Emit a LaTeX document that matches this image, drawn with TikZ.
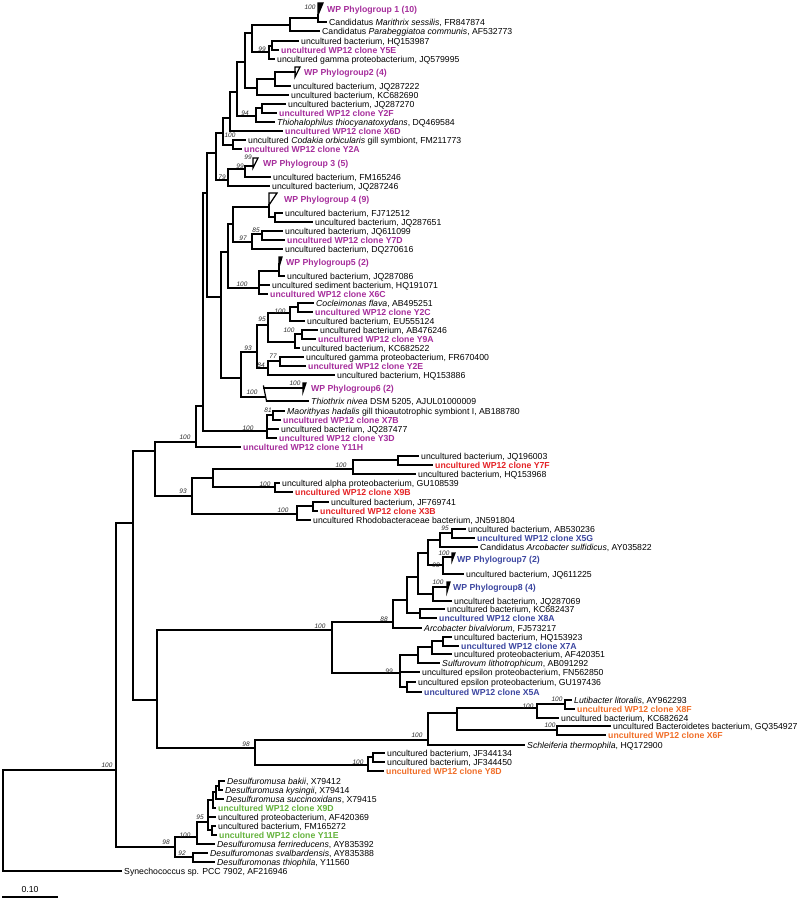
\documentclass[tikz,border=0pt]{standalone}
\usepackage{fontspec}
\setmainfont{Liberation Sans}
\definecolor{cpur}{RGB}{165,45,155}
\definecolor{cred}{RGB}{228,35,38}
\definecolor{cblu}{RGB}{60,70,160}
\definecolor{cora}{RGB}{240,110,40}
\definecolor{cgre}{RGB}{100,178,60}
\definecolor{cbs}{RGB}{40,40,40}
\newcommand\mkleaf[4][]{\coordinate (#2) at (#3); \node[lab,#1] (t#2) at ([shift={(3pt,-3.1pt)}]#2) {#4};}
\begin{document}
\begin{tikzpicture}[x=1pt,y=-1pt,
  br/.style={line width=1.25pt,line cap=rect,line join=miter},
  lab/.style={font=\fontsize{8.7}{10}\selectfont, inner sep=0pt, anchor=base west},
  clone/.style={font=\fontsize{8.7}{10}\selectfont\bfseries, text=#1},
  bsl/.style={font=\fontsize{6.5}{7}\selectfont\itshape, inner sep=0pt, text=cbs}]
\useasboundingbox (0,0) rectangle (800,901);
% ---------------- leaves: purple clade
\mkleaf{Lmar}{326,22}{Candidatus \textit{Marithrix sessilis}, FR847874}
\mkleaf{Lpar}{319,31}{Candidatus \textit{Parabeggiatoa communis}, AF532773}
\mkleaf{Lhq987}{298,41}{uncultured bacterium, HQ153987}
\mkleaf[clone=cpur]{Ly5e}{278,50}{uncultured WP12 clone Y5E}
\mkleaf{Ljq995}{274,59}{uncultured gamma proteobacterium, JQ579995}
\mkleaf{Ljq222}{290,86}{uncultured bacterium, JQ287222}
\mkleaf{Lkc690}{288,95}{uncultured bacterium, KC682690}
\mkleaf{Ljq270}{285,104}{uncultured bacterium, JQ287270}
\mkleaf[clone=cpur]{Ly2f}{276,113}{uncultured WP12 clone Y2F}
\mkleaf{Lthio}{274,122}{\textit{Thiohalophilus thiocyanatoxydans}, DQ469584}
\mkleaf[clone=cpur]{Lx6d}{282,131}{uncultured WP12 clone X6D}
\mkleaf{Lcod}{245,140}{uncultured \textit{Codakia orbicularis} gill symbiont, FM211773}
\mkleaf[clone=cpur]{Ly2a}{241,149}{uncultured WP12 clone Y2A}
\mkleaf{Lfm246}{270,177}{uncultured bacterium, FM165246}
\mkleaf{Ljq246}{269,186}{uncultured bacterium, JQ287246}
\mkleaf{Lfj512}{282,213}{uncultured bacterium, FJ712512}
\mkleaf{Ljq651}{312,222}{uncultured bacterium, JQ287651}
\mkleaf{Ljq099}{282,231}{uncultured bacterium, JQ611099}
\mkleaf[clone=cpur]{Ly7d}{284,240}{uncultured WP12 clone Y7D}
\mkleaf{Ldq616}{282,249}{uncultured bacterium, DQ270616}
\mkleaf{Ljq086}{284,276}{uncultured bacterium, JQ287086}
\mkleaf{Lhq071}{269,285}{uncultured sediment bacterium, HQ191071}
\mkleaf[clone=cpur]{Lx6c}{267,294}{uncultured WP12 clone X6C}
\mkleaf{Lcoc}{313,303}{\textit{Cocleimonas flava}, AB495251}
\mkleaf[clone=cpur]{Ly2c}{312,312}{uncultured WP12 clone Y2C}
\mkleaf{Leu124}{304,321}{uncultured bacterium, EU555124}
\mkleaf{Lab246}{317,330}{uncultured bacterium, AB476246}
\mkleaf[clone=cpur]{Ly9a}{315,339}{uncultured WP12 clone Y9A}
\mkleaf{Lkc522}{299,348}{uncultured bacterium, KC682522}
\mkleaf{Lfr400}{303,357}{uncultured gamma proteobacterium, FR670400}
\mkleaf[clone=cpur]{Ly2e}{305,366}{uncultured WP12 clone Y2E}
\mkleaf{Lhq886}{334,375}{uncultured bacterium, HQ153886}
\mkleaf{Lthx}{308,401}{\textit{Thiothrix nivea} DSM 5205, AJUL01000009}
\mkleaf{Lmao}{284,411}{\textit{Maorithyas hadalis} gill thioautotrophic symbiont I, AB188780}
\mkleaf[clone=cpur]{Lx7b}{280,420}{uncultured WP12 clone X7B}
\mkleaf{Ljq477}{278,429}{uncultured bacterium, JQ287477}
\mkleaf[clone=cpur]{Ly3d}{276,438}{uncultured WP12 clone Y3D}
\mkleaf[clone=cpur]{Ly11h}{240,447}{uncultured WP12 clone Y11H}
% red
\mkleaf{Ljq003}{418,456}{uncultured bacterium, JQ196003}
\mkleaf[clone=cred]{Ly7f}{432,465}{uncultured WP12 clone Y7F}
\mkleaf{Lhq968}{415,474}{uncultured bacterium, HQ153968}
\mkleaf{Lgu539}{279,483}{uncultured alpha proteobacterium, GU108539}
\mkleaf[clone=cred]{Lx9b}{292,492}{uncultured WP12 clone X9B}
\mkleaf{Ljf741}{328,502}{uncultured bacterium, JF769741}
\mkleaf[clone=cred]{Lx3b}{317,511}{uncultured WP12 clone X3B}
\mkleaf{Ljn804}{310,520}{uncultured Rhodobacteraceae bacterium, JN591804}
% blue
\mkleaf{Lab236}{465,529}{uncultured bacterium, AB530236}
\mkleaf[clone=cblu]{Lx5g}{474,538}{uncultured WP12 clone X5G}
\mkleaf{Larcs}{477,547}{Candidatus \textit{Arcobacter sulfidicus}, AY035822}
\mkleaf{Ljq225}{463,574}{uncultured bacterium, JQ611225}
\mkleaf{Ljq069}{451,601}{uncultured bacterium, JQ287069}
\mkleaf{Lkc437}{444,609}{uncultured bacterium, KC682437}
\mkleaf[clone=cblu]{Lx8a}{436,618}{uncultured WP12 clone X8A}
\mkleaf{Larcb}{421,628}{\textit{Arcobacter bivalviorum}, FJ573217}
\mkleaf{Lhq923}{451,637}{uncultured bacterium, HQ153923}
\mkleaf[clone=cblu]{Lx7a}{458,646}{uncultured WP12 clone X7A}
\mkleaf{Laf351}{451,654}{uncultured proteobacterium, AF420351}
\mkleaf{Lsulf}{439,663}{\textit{Sulfurovum lithotrophicum}, AB091292}
\mkleaf{Lfn850}{419,672}{uncultured epsilon proteobacterium, FN562850}
\mkleaf{Lgu436}{415,682}{uncultured epsilon proteobacterium, GU197436}
\mkleaf[clone=cblu]{Lx5a}{421,692}{uncultured WP12 clone X5A}
% orange
\mkleaf{Llut}{571,700}{\textit{Lutibacter litoralis}, AY962293}
\mkleaf[clone=cora]{Lx8f}{574,709}{uncultured WP12 clone X8F}
\mkleaf{Lkc624}{558,718}{uncultured bacterium, KC682624}
\mkleaf{Lgq927}{610,726}{uncultured Bacteroidetes bacterium, GQ354927}
\mkleaf[clone=cora]{Lx6f}{605,735}{uncultured WP12 clone X6F}
\mkleaf{Lsch}{524,745}{\textit{Schleiferia thermophila}, HQ172900}
\mkleaf{Ljf134}{384,753}{uncultured bacterium, JF344134}
\mkleaf{Ljf450}{384,762}{uncultured bacterium, JF344450}
\mkleaf[clone=cora]{Ly8d}{383,771}{uncultured WP12 clone Y8D}
% green
\mkleaf{Lbak}{224,781}{\textit{Desulfuromusa bakii}, X79412}
\mkleaf{Lkys}{222,790}{\textit{Desulfuromusa kysingii}, X79414}
\mkleaf{Lsuc}{223,799}{\textit{Desulfuromusa succinoxidans}, X79415}
\mkleaf[clone=cgre]{Lx9d}{215,808}{uncultured WP12 clone X9D}
\mkleaf{Laf369}{215,817}{uncultured proteobacterium, AF420369}
\mkleaf{Lfm272}{215,826}{uncultured bacterium, FM165272}
\mkleaf[clone=cgre]{Ly11e}{216,835}{uncultured WP12 clone Y11E}
\mkleaf{Lfer}{214,844}{\textit{Desulfuromusa ferrireducens}, AY835392}
\mkleaf{Lsva}{207,853}{\textit{Desulfuromonas svalbardensis}, AY835388}
\mkleaf{Lthp}{214,862}{\textit{Desulfuromonas thiophila}, Y11560}
\mkleaf{Lsyn}{121,871}{Synechococcus sp. PCC 7902, AF216946}
% ---------------- collapsed groups
\draw[br,fill=black] (318,15) -- (318,3) -- (323,3) -- cycle;
\coordinate (pg1) at (318,15);
\node[clone=cpur,anchor=base west,inner sep=0pt] (tpg1) at (327,12.1) {WP Phylogroup 1 (10)};
\draw[br,fill=white] (295,77) -- (295,67) -- (300,67) -- cycle;
\coordinate (pg2) at (295,72);
\node[clone=cpur,anchor=base west,inner sep=0pt] (tpg2) at (304,75.1) {WP Phylogroup2 (4)};
\draw[br,fill=white] (253,168) -- (253,158) -- (258,158) -- cycle;
\coordinate (pg3) at (253,166);
\node[clone=cpur,anchor=base west,inner sep=0pt] (tpg3) at (263,166.1) {WP Phylogroup 3 (5)};
\draw[br,fill=white] (269,205) -- (269,193) -- (277,193) -- cycle;
\coordinate (pg4) at (269,205);
\node[clone=cpur,anchor=base west,inner sep=0pt] (tpg4) at (284,202.1) {WP Phylogroup 4 (9)};
\draw[br,fill=black] (279,267) -- (279,257) -- (282,257) -- cycle;
\coordinate (pg5) at (279,264);
\node[clone=cpur,anchor=base west,inner sep=0pt] (tpg5) at (286,265.1) {WP Phylogroup5 (2)};
\draw[br,fill=black] (303,392) -- (303,383) -- (306,383) -- cycle;
\coordinate (pg6) at (303,388);
\node[clone=cpur,anchor=base west,inner sep=0pt] (tpg6) at (311,391.1) {WP Phylogroup6 (2)};
\draw[br,fill=black] (452,561) -- (452,553) -- (455,553) -- cycle;
\coordinate (pg7) at (452,557);
\node[clone=cblu,anchor=base west,inner sep=0pt] (tpg7) at (457,562.1) {WP Phylogroup7 (2)};
\draw[br,fill=black] (447,592) -- (447,582) -- (450,582) -- cycle;
\coordinate (pg8) at (447,587);
\node[clone=cblu,anchor=base west,inner sep=0pt] (tpg8) at (453,590.1) {WP Phylogroup8 (4)};
% ---------------- internal nodes
\coordinate (m2) at (318,18); \coordinate (m1) at (290,25);
\coordinate (y5s) at (272,46); \coordinate (y5) at (269,52);
\coordinate (n252) at (252,33);
\coordinate (pg2n) at (275,79); \coordinate (n257) at (257,88);
\coordinate (n245) at (245,62);
\coordinate (n262) at (262,108); \coordinate (n94) at (256,116);
\coordinate (n237) at (237,92); \coordinate (n230) at (230,118);
\coordinate (n233) at (233,145); \coordinate (n223) at (223,133);
\coordinate (n99b) at (245,169); \coordinate (n79) at (228,180);
\coordinate (n216) at (216,153);
\coordinate (n269) at (269,207); \coordinate (n275) at (275,217);
\coordinate (n262b) at (262,234); \coordinate (n252b) at (252,242);
\coordinate (n233b) at (233,224);
\coordinate (n279) at (279,271); \coordinate (n259) at (259,288);
\coordinate (n228) at (228,252);
\coordinate (n298) at (298,307); \coordinate (n290) at (290,313);
\coordinate (n302) at (302,334); \coordinate (n295) at (295,342);
\coordinate (n268) at (268,325);
\coordinate (n280) at (280,361); \coordinate (n268b) at (268,368);
\coordinate (n257b) at (257,352);
\coordinate (n265) at (265.6,397);
\coordinate (n241) at (241,378); \coordinate (n221) at (221,297);
\coordinate (n207) at (207,193);
\coordinate (n273) at (273,415); \coordinate (n267) at (267,431);
\coordinate (n203) at (203,406); \coordinate (n196) at (196,442);
\coordinate (n398) at (398,460); \coordinate (n353) at (353,469);
\coordinate (n275r) at (275,487); \coordinate (n213) at (213,478);
\coordinate (n313) at (313,506); \coordinate (n297) at (297,514);
\coordinate (n192) at (192,496); \coordinate (n155) at (155,451);
\coordinate (n452) at (452,533); \coordinate (n440) at (440,540);
\coordinate (n443) at (443,565); \coordinate (n428) at (428,553);
\coordinate (n433) at (433,594); \coordinate (n418) at (418,577);
\coordinate (n420) at (420,613); \coordinate (n407) at (407,600);
\coordinate (n393) at (393,622);
\coordinate (n443b) at (443,641); \coordinate (n432) at (432,647);
\coordinate (n418b) at (418,655); \coordinate (n407b) at (407,687);
\coordinate (n400) at (400,673); \coordinate (n332) at (332,630);
\coordinate (n565) at (565,704); \coordinate (n537) at (537,708);
\coordinate (n557) at (557,730); \coordinate (n457) at (457,713);
\coordinate (n428o) at (428,740);
\coordinate (n373) at (373,757); \coordinate (n368) at (368,765);
\coordinate (n255) at (255,748); \coordinate (n157) at (157,700);
\coordinate (n133) at (133,523);
\coordinate (n219) at (219,786); \coordinate (n216g) at (216,792);
\coordinate (n213g) at (213,800); \coordinate (n212) at (212,830);
\coordinate (n208) at (208,822); \coordinate (n197) at (197,837);
\coordinate (n193) at (193,857); \coordinate (n175) at (175,847);
\coordinate (n116) at (116,770); \coordinate (root) at (3,820);
% ---------------- branches
\foreach \a/\b in {m2/pg1, m2/Lmar, m1/m2, m1/Lpar,
 y5s/Lhq987, y5s/Ly5e, y5/y5s, y5/Ljq995, n252/m1, n252/y5,
 pg2n/pg2, pg2n/Ljq222, n257/pg2n, n257/Lkc690, n245/n252, n245/n257,
 n262/Ljq270, n262/Ly2f, n94/n262, n94/Lthio, n237/n245, n237/n94,
 n230/n237, n230/Lx6d, n233/Lcod, n233/Ly2a, n223/n230, n223/n233,
 n99b/pg3, n99b/Lfm246, n79/n99b, n79/Ljq246, n216/n223, n216/n79,
 n269/pg4, n269/n275, n275/Lfj512, n275/Ljq651,
 n262b/Ljq099, n262b/Ly7d, n252b/n262b, n252b/Ldq616, n233b/n269, n233b/n252b,
 n279/pg5, n279/Ljq086, n259/n279, n259/Lhq071, n259/Lx6c, n228/n233b, n228/n259,
 n298/Lcoc, n298/Ly2c, n290/n298, n290/Leu124,
 n302/Lab246, n302/Ly9a, n295/n302, n295/Lkc522, n268/n290, n268/n295,
 n280/Lfr400, n280/Ly2e, n268b/n280, n268b/Lhq886, n257b/n268, n257b/n268b,
 n241/n257b, n241/n265, n221/n228, n221/n241, n207/n216, n207/n221,
 n273/Lmao, n273/Lx7b, n267/n273, n267/Ljq477, n267/Ly3d,
 n203/n207, n203/n267, n196/n203, n196/Ly11h,
 n398/Ljq003, n398/Ly7f, n353/n398, n353/Lhq968,
 n275r/Lgu539, n275r/Lx9b, n213/n353, n213/n275r,
 n313/Ljf741, n313/Lx3b, n297/n313, n297/Ljn804, n192/n213, n192/n297,
 n155/n196, n155/n192,
 n452/Lab236, n452/Lx5g, n440/n452, n440/Larcs,
 n443/pg7, n443/Ljq225, n428/n440, n428/n443,
 n433/pg8, n433/Ljq069, n418/n428, n418/n433,
 n420/Lkc437, n420/Lx8a, n407/n418, n407/n420, n393/n407, n393/Larcb,
 n443b/Lhq923, n443b/Lx7a, n432/n443b, n432/Laf351, n418b/n432, n418b/Lsulf,
 n407b/Lgu436, n407b/Lx5a, n400/n418b, n400/Lfn850, n400/n407b,
 n332/n393, n332/n400,
 n565/Llut, n565/Lx8f, n537/n565, n537/Lkc624, n557/Lgq927, n557/Lx6f,
 n457/n537, n457/n557, n428o/n457, n428o/Lsch,
 n373/Ljf134, n373/Ljf450, n368/n373, n368/Ly8d, n255/n428o, n255/n368,
 n157/n332, n157/n255, n133/n155, n133/n157,
 n219/Lbak, n219/Lkys, n216g/n219, n216g/Lsuc, n213g/n216g, n213g/Lx9d,
 n212/Lfm272, n212/Ly11e, n208/n213g, n208/Laf369, n208/n212,
 n197/n208, n197/Lfer, n193/Lsva, n193/Lthp, n175/n197, n175/n193,
 n116/n133, n116/n175, root/n116, root/Lsyn}
 \draw[br] (\a) |- (\b);
% slanted node of Phylogroup 6
\coordinate (s6a) at (263.5,386); \coordinate (s6b) at (266.5,401);
\draw[br] (s6a) -- (s6b);
\draw[br] (263.9,388) -- (pg6);
\draw[br] (s6b) -- (Lthx);
% ---------------- bootstrap values
\foreach \p/\t [count=\i] in {(310,7)/100, (262,49)/99, (245,113)/94, (230,135)/100,
 (248,157)/99, (240,166)/99, (222,177)/79, (256,230)/85, (243,238)/97, (242,284)/100,
 (280,311)/100, (262,319)/95, (289,330)/100, (248,348)/93, (273,356)/77, (261,365)/84,
 (295,383)/100, (252,392)/100, (268,410)/81, (248,428)/100, (185,437)/100, (341,465)/100,
 (183,491)/93, (265,484)/100, (283,510)/100, (445,528)/95, (444,553)/100, (436,565)/98,
 (438,582)/100, (384,619)/88, (320,626)/100, (389,671)/99, (557,699)/100, (528,706)/100,
 (550,725)/100, (417,735)/100, (358,762)/100, (246,744)/98, (107,765)/100, (200,817)/95,
 (185,835)/100, (166,842)/98, (182,853)/92}
 \node[bsl] (bs\i) at \p {\t};
% ---------------- scale bar
\coordinate (sbL) at (3,897); \coordinate (sbR) at (57,897);
\draw[br] (sbL) -- (sbR);
\node[lab,anchor=base] (sbt) at (30,892) {0.10};
\end{tikzpicture}
\end{document}
